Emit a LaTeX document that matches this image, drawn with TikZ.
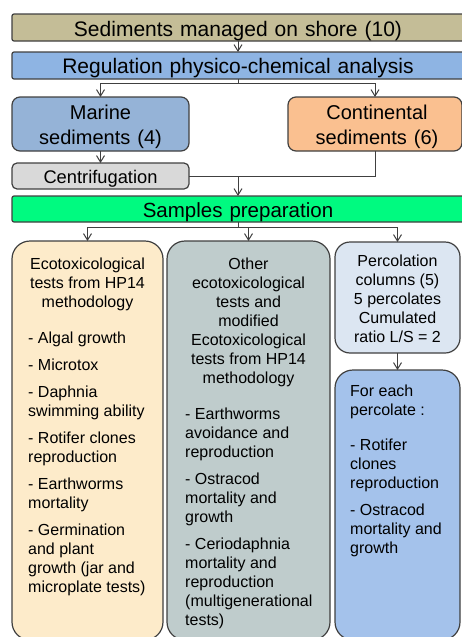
\documentclass[tikz,border=0pt]{standalone}
\usepackage{fontspec}
\setmainfont{Liberation Sans}
\usetikzlibrary{arrows.meta}
\definecolor{tanbox}{HTML}{C4BD97}
\definecolor{regblue}{HTML}{8EB4E3}
\definecolor{marblue}{HTML}{95B3D7}
\definecolor{conorange}{HTML}{FAC090}
\definecolor{cengray}{HTML}{D9D9D9}
\definecolor{samgreen}{HTML}{00FA80}
\definecolor{leftyellow}{HTML}{FDEBCA}
\definecolor{midgray}{HTML}{BFCCCC}
\definecolor{rtopblue}{HTML}{DCE6F2}
\definecolor{rbotblue}{HTML}{A4C2EB}
\definecolor{edge}{HTML}{404040}
\newcommand{\mystrut}{\rule{0pt}{13pt}}
\newcommand{\bigstrut}{\rule{0pt}{16pt}}
\newcommand{\widesp}{\spaceskip=7pt plus 1pt minus 1pt\relax}
\newcommand{\bigfont}{\fontsize{21}{25}\selectfont\widesp}
\newcommand{\midfont}{\fontsize{20}{25}\selectfont\widesp}
\newcommand{\samfont}{\fontsize{20.5}{25}\selectfont\widesp}
\begin{document}
\begin{tikzpicture}[x=1pt,y=-1pt,
  box/.style={draw=edge, line width=1.2pt, inner sep=0pt, outer sep=0pt},
  arr/.style={draw=edge, line width=1pt, -{Straight Barb[length=6.5pt,width=8pt]}},
  plain/.style={draw=edge, line width=1pt},
  bigtxt/.style={inner sep=0pt, font=\bigfont},
  midtxt/.style={inner sep=0pt, font=\midfont},
  smalltxt/.style={inner sep=0pt, font=\fontsize{16}{19}\selectfont}
]
\useasboundingbox (0,0) rectangle (462,637);
\clip (0,0) rectangle (462,637);

% boxes
\node[box, fill=tanbox, rounded corners=2pt, minimum width=452pt, minimum height=27pt] (sed) at (238,27.5) {};
\node[box, fill=regblue, rounded corners=2pt, minimum width=452pt, minimum height=27pt] (reg) at (238,65.5) {};
\node[box, fill=marblue, rounded corners=8pt, minimum width=177pt, minimum height=54pt] (mar) at (100.5,124) {};
\node[box, fill=conorange, rounded corners=8pt, minimum width=174pt, minimum height=54pt] (con) at (375,124) {};
\node[box, fill=cengray, rounded corners=5pt, minimum width=177pt, minimum height=26pt] (cen) at (100.5,176) {};
\node[box, fill=samgreen, rounded corners=2pt, minimum width=452pt, minimum height=26pt] (sam) at (238,209) {};
\node[box, fill=leftyellow, rounded corners=18pt, minimum width=151pt, minimum height=399pt] (lft) at (87.5,440.5) {};
\node[box, fill=midgray, rounded corners=18pt, minimum width=163pt, minimum height=399pt] (mid) at (248.5,440.5) {};
\node[box, fill=rtopblue, rounded corners=15pt, minimum width=125pt, minimum height=111pt] (rtop) at (397.5,297.5) {};
\node[box, fill=rbotblue, rounded corners=18pt, minimum width=125pt, minimum height=270pt] (rbot) at (397.5,505) {};

% texts
\node[bigtxt, anchor=base] (tsed) at (238,36) {Sediments managed on shore (10)};
\node[bigtxt, anchor=base] (treg) at (238,73) {Regulation physico-chemical analysis};
\node[midtxt, anchor=north, align=center] (tmar) at (100.5,103) {\bigstrut Marine\\sediments (4)};
\node[midtxt, anchor=north, align=center] (tcon) at (377,103) {\bigstrut Continental\\sediments (6)};
\node[inner sep=0pt, font=\fontsize{18.3}{22}\selectfont, anchor=base] (tcen) at (100.5,183) {Centrifugation};
\node[inner sep=0pt, font=\samfont, anchor=base] (tsam) at (238,217) {Samples preparation};

\node[smalltxt, anchor=north, align=center] (lhead) at (87.5,256) {\mystrut Ecotoxicological\\tests from HP14\\methodology};
\node[smalltxt, anchor=north west, align=left] (llist) at (28,330) {\mystrut - Algal growth\\[8pt]- Microtox\\[8pt]- Daphnia\\swimming ability\\[8pt]- Rotifer clones\\reproduction\\[8pt]- Earthworms\\mortality\\[8pt]- Germination\\and plant\\growth (jar and\\microplate tests)};

\node[smalltxt, anchor=north, align=center] (mhead) at (248.5,256) {\mystrut Other\\ecotoxicological\\tests and\\modified\\Ecotoxicological\\tests from HP14\\methodology};
\node[smalltxt, anchor=north west, align=left] (mlist) at (185,406) {\mystrut - Earthworms\\avoidance and\\reproduction\\[8pt]- Ostracod\\mortality and\\growth\\[8pt]- Ceriodaphnia\\mortality and\\reproduction\\(multigenerational\\tests)};

\node[smalltxt, anchor=north, align=center] (rthead) at (397.5,253) {\mystrut Percolation\\columns (5)\\5 percolates\\Cumulated\\ratio L/S = 2};
\node[smalltxt, anchor=north west, align=left] (rblist) at (350,383) {\mystrut For each\\percolate :\\[16pt]- Rotifer\\clones\\reproduction\\[8pt]- Ostracod\\mortality and\\growth};

% connectors
\coordinate (j1) at (238,83);
\coordinate (j2) at (238,176);
\coordinate (j3) at (238,227);
\draw[arr] (sed.south) -- (reg.north);
\draw[plain] (reg.south) -- (j1);
\draw[arr] (j1) -| (mar.north);
\draw[arr] (j1) -| (con.north);
\draw[arr] (mar.south) -- (cen.north);
\draw[plain] (cen.east) -| (con.south);
\draw[arr] (j2) -- (sam.north);
\draw[plain] (sam.south) -- (j3);
\draw[arr] (j3) -| (lft.north);
\draw[arr] (j3) -| (mid.north);
\draw[arr] (j3) -| (rtop.north);
\draw[arr] (rtop.south) -- (rbot.north);
\end{tikzpicture}
\end{document}
